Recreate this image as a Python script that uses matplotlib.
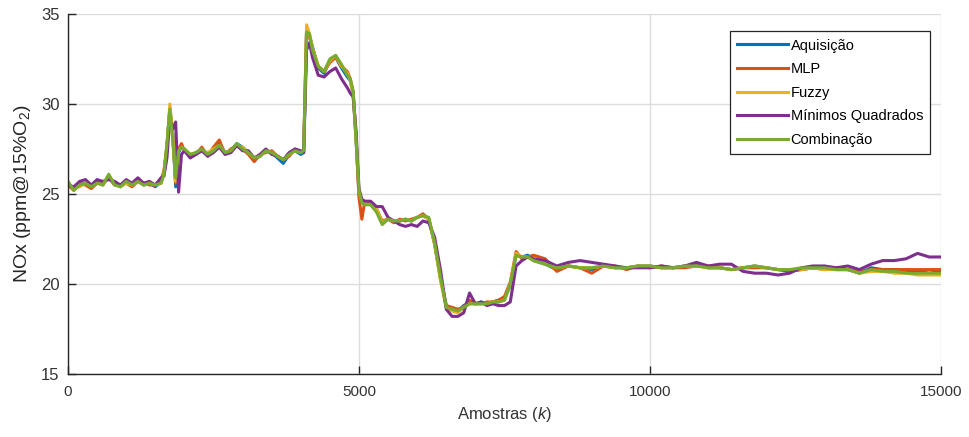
import numpy as np
import matplotlib
matplotlib.use("Agg")
import matplotlib.pyplot as plt

plt.rcParams['font.family'] = ['Liberation Sans', 'DejaVu Sans']
plt.rcParams['mathtext.fontset'] = 'custom'
plt.rcParams['mathtext.rm'] = 'Liberation Sans'
plt.rcParams['mathtext.it'] = 'Liberation Sans:italic'

## sample index (k)
amostras = ([0, 100, 200, 300, 400, 500, 600, 700, 800, 900, 1000, 1100, 1200, 1300, 1400, 1500, 1600]
            + [1650, 1700, 1750, 1800, 1850, 1900, 1950, 2000]
            + list(range(2100, 4001, 100))
            + [4050, 4100, 4150, 4200, 4300, 4400, 4500, 4600, 4700, 4800, 4850, 4900, 4950, 5000, 5050, 5100]
            + list(range(5200, 8001, 100))
            + list(range(8200, 15001, 200)))

aquisicao = ([25.6, 25.3, 25.5, 25.6, 25.4, 25.7, 25.5, 26.0, 25.6, 25.4, 25.7, 25.5, 25.8, 25.5, 25.6, 25.4, 25.7]
             + [26.2, 27.6, 29.8, 28.4, 25.4, 27.3, 27.6, 27.5]
             + [27.1, 27.3, 27.5, 27.2, 27.5, 27.8, 27.3, 27.4, 27.8, 27.6, 27.3, 26.9, 27.1, 27.4, 27.3, 27.0, 26.7, 27.2, 27.4, 27.2]
             + [27.3, 34.2, 33.8, 33.2, 32.0, 31.7, 32.4, 32.6, 32.0, 31.5, 31.3, 30.6, 28.0, 25.0, 24.6, 24.5]
             + [24.5, 24.2, 23.4, 23.6, 23.5, 23.5, 23.6, 23.5, 23.7, 23.8, 23.6, 22.2, 20.3, 18.8, 18.6, 18.5, 18.8, 19.0, 18.9, 19.0,
                18.9, 19.0, 19.1, 19.2, 19.9, 21.6, 21.5, 21.6, 21.3]
             + [21.1, 20.8, 21.0, 20.9, 20.8, 21.0, 20.9, 20.9, 21.0, 21.0, 20.9, 20.9, 21.0, 21.1, 20.9, 20.9, 20.8, 20.9,
                21.0, 20.9, 20.8, 20.7, 20.8, 20.9, 20.9, 20.8, 20.8, 20.6, 20.9, 20.8, 20.8, 20.7, 20.7, 20.6, 20.7])

mlp = ([25.5, 25.2, 25.6, 25.5, 25.3, 25.6, 25.6, 25.9, 25.5, 25.5, 25.6, 25.4, 25.7, 25.6, 25.5, 25.5, 25.8]
       + [26.3, 27.7, 29.7, 28.2, 25.6, 27.5, 27.8, 27.4]
       + [27.2, 27.2, 27.6, 27.1, 27.6, 28.0, 27.2, 27.5, 27.7, 27.5, 27.2, 26.8, 27.2, 27.3, 27.4, 27.1, 26.9, 27.1, 27.5, 27.3]
       + [27.4, 34.1, 33.7, 33.1, 32.1, 31.8, 32.3, 32.6, 32.1, 31.8, 31.4, 30.7, 28.2, 24.8, 23.6, 24.6]
       + [24.4, 24.1, 23.5, 23.6, 23.4, 23.6, 23.5, 23.6, 23.7, 23.9, 23.6, 22.3, 20.4, 18.8, 18.7, 18.6, 18.7, 19.1, 18.9, 18.9,
          19.0, 19.0, 19.1, 19.3, 20.1, 21.8, 21.4, 21.5, 21.6]
       + [21.4, 20.7, 21.0, 20.9, 20.6, 21.0, 21.0, 20.8, 21.0, 20.9, 21.0, 20.9, 20.9, 21.0, 21.0, 20.9, 20.8, 20.9,
          20.9, 20.9, 20.8, 20.8, 20.8, 20.9, 20.8, 20.9, 20.8, 20.7, 20.8, 20.8, 20.8, 20.8, 20.8, 20.8, 20.8])

fuzzy = ([25.6, 25.3, 25.4, 25.6, 25.5, 25.6, 25.5, 26.0, 25.6, 25.4, 25.6, 25.5, 25.7, 25.5, 25.6, 25.5, 25.6]
         + [26.2, 27.5, 30.0, 28.3, 25.7, 27.4, 27.6, 27.5]
         + [27.2, 27.3, 27.4, 27.3, 27.5, 27.7, 27.3, 27.4, 27.7, 27.6, 27.3, 27.0, 27.1, 27.4, 27.3, 27.1, 26.9, 27.2, 27.4, 27.3]
         + [27.4, 34.4, 33.9, 33.1, 32.1, 31.8, 32.4, 32.7, 32.1, 31.7, 31.3, 30.5, 28.0, 25.1, 24.6, 24.5]
         + [24.4, 24.2, 23.4, 23.6, 23.5, 23.5, 23.6, 23.5, 23.7, 23.8, 23.6, 22.2, 20.2, 18.7, 18.5, 18.4, 18.7, 18.9, 18.9, 18.9,
            18.9, 19.0, 19.0, 19.1, 20.0, 21.7, 21.5, 21.5, 21.3]
         + [21.1, 20.9, 21.0, 20.9, 20.9, 21.0, 20.9, 20.9, 21.0, 21.0, 20.9, 20.9, 21.0, 21.0, 20.9, 20.9, 20.8, 20.9,
            21.0, 20.9, 20.8, 20.8, 20.8, 20.9, 20.8, 20.8, 20.8, 20.6, 20.7, 20.7, 20.6, 20.6, 20.5, 20.5, 20.5])

minimos = ([25.5, 25.4, 25.7, 25.8, 25.5, 25.8, 25.7, 25.8, 25.7, 25.5, 25.8, 25.6, 25.9, 25.6, 25.7, 25.5, 25.9]
           + [26.0, 27.0, 29.2, 28.6, 29.0, 25.1, 27.2, 27.4]
           + [27.0, 27.2, 27.4, 27.1, 27.3, 27.6, 27.2, 27.3, 27.7, 27.4, 27.4, 27.0, 27.2, 27.5, 27.2, 27.1, 26.9, 27.3, 27.5, 27.4]
           + [27.3, 33.0, 33.4, 32.6, 31.6, 31.5, 31.8, 32.0, 31.4, 30.9, 30.6, 30.4, 28.5, 25.3, 24.7, 24.6]
           + [24.6, 24.3, 24.3, 23.7, 23.5, 23.3, 23.2, 23.3, 23.2, 23.5, 23.4, 22.6, 20.8, 18.6, 18.2, 18.2, 18.4, 19.5, 18.9, 19.0,
              18.8, 18.9, 18.8, 18.8, 19.0, 21.0, 21.3, 21.5, 21.4]
           + [21.3, 21.0, 21.2, 21.3, 21.2, 21.1, 21.0, 20.9, 20.9, 20.9, 21.0, 20.9, 21.0, 21.2, 21.0, 21.1, 21.1, 20.7,
              20.6, 20.6, 20.5, 20.6, 20.9, 21.0, 21.0, 20.9, 21.0, 20.8, 21.1, 21.3, 21.3, 21.4, 21.7, 21.5, 21.5])

combinacao = ([25.7, 25.2, 25.5, 25.6, 25.4, 25.6, 25.5, 26.1, 25.5, 25.4, 25.7, 25.5, 25.7, 25.5, 25.6, 25.5, 25.6]
              + [26.1, 27.8, 29.7, 28.0, 25.9, 27.4, 27.6, 27.5]
              + [27.2, 27.3, 27.5, 27.2, 27.4, 27.7, 27.3, 27.4, 27.8, 27.5, 27.3, 27.0, 27.1, 27.4, 27.3, 27.1, 26.9, 27.2, 27.4, 27.3]
              + [27.4, 34.0, 33.9, 33.0, 32.1, 31.8, 32.5, 32.7, 32.2, 31.6, 31.4, 30.7, 28.1, 25.2, 24.5, 24.4]
              + [24.4, 24.0, 23.3, 23.6, 23.5, 23.5, 23.6, 23.5, 23.7, 23.8, 23.7, 22.3, 20.4, 18.7, 18.6, 18.5, 18.7, 18.9, 18.9, 18.9,
                 18.9, 19.0, 19.0, 19.1, 20.0, 21.6, 21.5, 21.5, 21.3]
              + [21.1, 20.9, 21.0, 20.9, 20.9, 21.0, 20.9, 20.9, 21.0, 21.0, 20.9, 20.9, 21.0, 21.0, 20.9, 20.9, 20.8, 20.9,
                 21.0, 20.9, 20.8, 20.8, 20.9, 20.9, 20.9, 20.8, 20.8, 20.6, 20.8, 20.7, 20.7, 20.6, 20.6, 20.6, 20.6])

nomes = ['Aquisição', 'MLP', 'Fuzzy', 'Mínimos Quadrados', 'Combinação']
cores = ['#0072BD', '#D95319', '#EDB120', '#7E2F8E', '#77AC30']
series = [aquisicao, mlp, fuzzy, minimos, combinacao]

fig = plt.figure(figsize=(9.7, 4.37), dpi=100)
ax = fig.add_axes([0.0701, 0.1442, 0.8999, 0.8238])

for s, nome, cor in zip(series, nomes, cores):
    ax.plot(amostras, s, color=cor, lw=2.2, label=nome)

ax.set_xlim(0, 15000)
ax.set_ylim(15, 35)
ax.set_xticks([0, 5000, 10000, 15000])
ax.set_yticks([15, 20, 25, 30, 35])
ax.grid(True, color='#dcdcdc', lw=1.0)
ax.set_axisbelow(True)
for side in ['top', 'right']:
    ax.spines[side].set_visible(False)
for side in ['left', 'bottom']:
    ax.spines[side].set_color('#262626')
    ax.spines[side].set_linewidth(1.0)
ax.tick_params(direction='in', length=6, width=1.0, color='#262626', labelcolor='#333333')
ax.tick_params(axis='y', labelsize=12, pad=6)
ax.tick_params(axis='x', labelsize=11, pad=8)

ax.set_xlabel(r'Amostras ($\mathit{k}$)', fontsize=12, color='#333333', labelpad=4)
ax.set_ylabel(r'NOx (ppm@15%O$_2$)', fontsize=14, color='#262626', labelpad=6)

leg = ax.legend(loc='upper right', bbox_to_anchor=(0.988, 0.952), fontsize=10.5, fancybox=False,
                framealpha=1, edgecolor='#262626', handlelength=3.5, handletextpad=0.15,
                labelspacing=0.66, borderpad=0.5, borderaxespad=0)
leg.get_frame().set_linewidth(0.9)

fig.savefig('out.png', dpi=100)
